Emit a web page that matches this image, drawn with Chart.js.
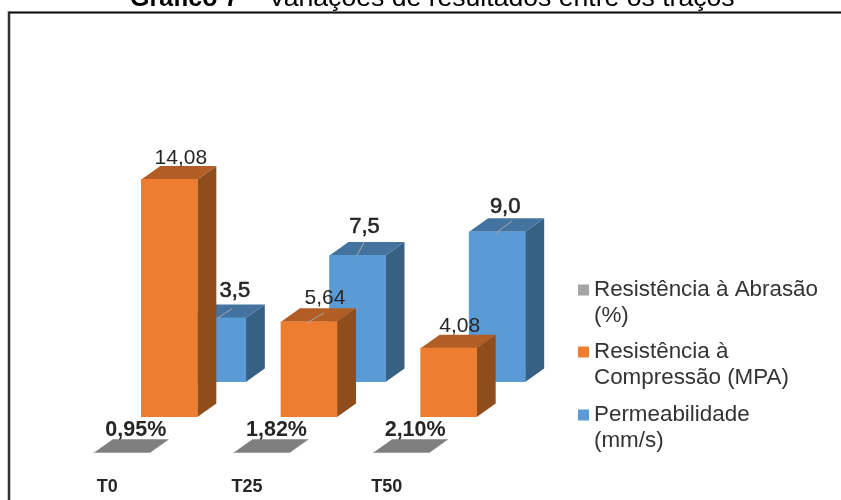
<!DOCTYPE html>
<html>
<head>
<meta charset="utf-8">
<style>
  html, body { margin: 0; padding: 0; background: #fff; overflow: hidden; }
  canvas { display: block; }
</style>
<script src="https://cdn.jsdelivr.net/npm/chart.js@4/dist/chart.umd.min.js"></script>
</head>
<body>
<canvas id="chart" width="841" height="500"></canvas>
<script>
const categories = ['T0', 'T25', 'T50'];
const abrasao = [0.0095, 0.0182, 0.021];
const compressao = [14.08, 5.64, 4.08];
// bar heights as drawn: the T0 bar reaches about 3.8 and T50 about 8.9 though they are printed 3,5 and 9,0
const permeabilidade = [3.8, 7.5, 8.9];

const abrasaoLabels = ['0,95%', '1,82%', '2,10%'];
const compressaoLabels = ['14,08', '5,64', '4,08'];
const permeabilidadeLabels = ['3,5', '7,5', '9,0'];

const legendLines = [
    ['Resistência à Abrasão', '(%)'],
    ['Resistência à', 'Compressão (MPA)'],
    ['Permeabilidade', '(mm/s)'],
];

// fake 3D look, one entry per dataset
const looks = [
    {shift: [0, 0], top: '#7f7f7f', side: '#6e6e6e', labelFont: 'bold 21.5px "Liberation Sans"', labelStroke: 0,
     labels: abrasaoLabels, labelAt: [[14, -23], [15, -23], [14, -23]], leaders: [null, null, null], legendColor: '#a5a5a5', legendY: 290},
    {shift: [47.5, -36], top: '#b15d23', side: '#8f4d1c', labelFont: '21px "Liberation Sans"', labelStroke: 0,
     labels: compressaoLabels, labelAt: [[11.5, -21], [16, -24], [11, -22]], leaders: [null, [-2, 1, 15, -9], null], legendColor: '#ed7d31', legendY: 352},
    {shift: [96, -71], top: '#44739f', side: '#376085', labelFont: '22px "Liberation Sans"', labelStroke: 0.6,
     labels: permeabilidadeLabels, labelAt: [[17, -27], [7, -29], [8, -25]], leaders: [[0, 0, 14, -9], [-1, 1, 7, -14], [-1, 1, 15, -11]], legendColor: '#5b9bd5', legendY: 415},
];
const depth = [19, -13.5];

const box3d = {
    id: 'box3d',
    beforeDatasetDraw(chart, args) {
        const ctx = chart.ctx;
        const look = looks[args.index];
        ctx.save();
        ctx.translate(look.shift[0], look.shift[1]);
        args.meta.data.forEach(bar => {
            const right = bar.x + bar.width / 2;
            const left = bar.x - bar.width / 2;
            ctx.fillStyle = look.side;
            ctx.beginPath();
            ctx.moveTo(right, bar.y);
            ctx.lineTo(right + depth[0], bar.y + depth[1]);
            ctx.lineTo(right + depth[0], bar.base + depth[1]);
            ctx.lineTo(right, bar.base);
            ctx.fill();
            ctx.fillStyle = look.top;
            ctx.beginPath();
            ctx.moveTo(left, bar.y);
            ctx.lineTo(left + depth[0], bar.y + depth[1]);
            ctx.lineTo(right + depth[0], bar.y + depth[1]);
            ctx.lineTo(right, bar.y);
            ctx.fill();
        });
    },
    afterDatasetDraw(chart) {
        chart.ctx.restore();
    },
    afterDatasetsDraw(chart) {
        const ctx = chart.ctx;
        ctx.save();
        ctx.textAlign = 'center';
        ctx.textBaseline = 'middle';
        looks.forEach((look, i) => {
            chart.getDatasetMeta(i).data.forEach((bar, j) => {
                const x = bar.x + look.shift[0];
                const y = bar.y + look.shift[1];
                const leader = look.leaders[j];
                if (leader) {
                    ctx.strokeStyle = '#a6a6a6';
                    ctx.lineWidth = 1;
                    ctx.beginPath();
                    ctx.moveTo(x + leader[0], y + leader[1]);
                    ctx.lineTo(x + leader[2], y + leader[3]);
                    ctx.stroke();
                }
                ctx.fillStyle = '#262626';
                ctx.font = look.labelFont;
                ctx.fillText(look.labels[j], x + look.labelAt[j][0], y + look.labelAt[j][1]);
                if (look.labelStroke) {
                    ctx.strokeStyle = '#262626';
                    ctx.lineWidth = look.labelStroke;
                    ctx.strokeText(look.labels[j], x + look.labelAt[j][0], y + look.labelAt[j][1]);
                }
            });
        });
        ctx.restore();
    },
};

// frame, cut-off caption and wrapped legend
const decorations = {
    id: 'decorations',
    beforeDraw(chart) {
        const ctx = chart.ctx;
        ctx.save();
        ctx.strokeStyle = '#9a9a9a';
        ctx.lineWidth = 3;
        ctx.beginPath();
        ctx.moveTo(9, 500);
        ctx.lineTo(9, 12.5);
        ctx.lineTo(841, 12.5);
        ctx.stroke();
        ctx.strokeStyle = '#111';
        ctx.lineWidth = 1.5;
        ctx.stroke();
        ctx.fillStyle = '#000';
        ctx.textBaseline = 'alphabetic';
        ctx.textAlign = 'left';
        ctx.font = 'bold 25px "Liberation Sans"';
        ctx.fillText('Gráfico 7', 130, 6);
        ctx.font = '26.6px "Liberation Sans"';
        ctx.fillText('–', 244, 6);
        ctx.fillText('Variações de resultados entre os traços', 268, 6);
        ctx.restore();
    },
    afterDraw(chart) {
        const ctx = chart.ctx;
        ctx.save();
        ctx.textBaseline = 'middle';
        ctx.textAlign = 'left';
        ctx.font = '22.4px "Liberation Sans"';
        looks.forEach((look, i) => {
            ctx.fillStyle = look.legendColor;
            ctx.fillRect(578, look.legendY - 5.5, 11, 11);
            ctx.fillStyle = '#333';
            legendLines[i].forEach((line, n) => {
                ctx.fillText(line, 594, look.legendY + n * 25.5);
            });
        });
        ctx.restore();
    },
};

new Chart(document.getElementById('chart'), {
    type: 'bar',
    data: {
        labels: categories,
        datasets: [
            {label: 'Resistência à Abrasão (%)', data: abrasao, backgroundColor: '#a5a5a5'},
            {label: 'Resistência à Compressão (MPA)', data: compressao, backgroundColor: '#ed7d31'},
            {label: 'Permeabilidade (mm/s)', data: permeabilidade, backgroundColor: '#5b9bd5'},
        ],
    },
    options: {
        responsive: false,
        animation: false,
        grouped: false,
        barThickness: 56,
        layout: {padding: {left: 52, right: 370, top: 183, bottom: 0}},
        plugins: {legend: {display: false}, title: {display: false}, tooltip: {enabled: false}},
        scales: {
            x: {
                grid: {display: false},
                border: {display: false},
                ticks: {
                    color: '#262626',
                    font: {family: 'Liberation Sans', size: 18, weight: 'bold'},
                    padding: 15,
                    labelOffset: -14.5,
                    maxRotation: 0,
                },
                afterFit(scale) { scale.height = 47; },
            },
            y: {display: false, min: 0, max: 16},
        },
    },
    plugins: [box3d, decorations],
});
</script>
</body>
</html>
